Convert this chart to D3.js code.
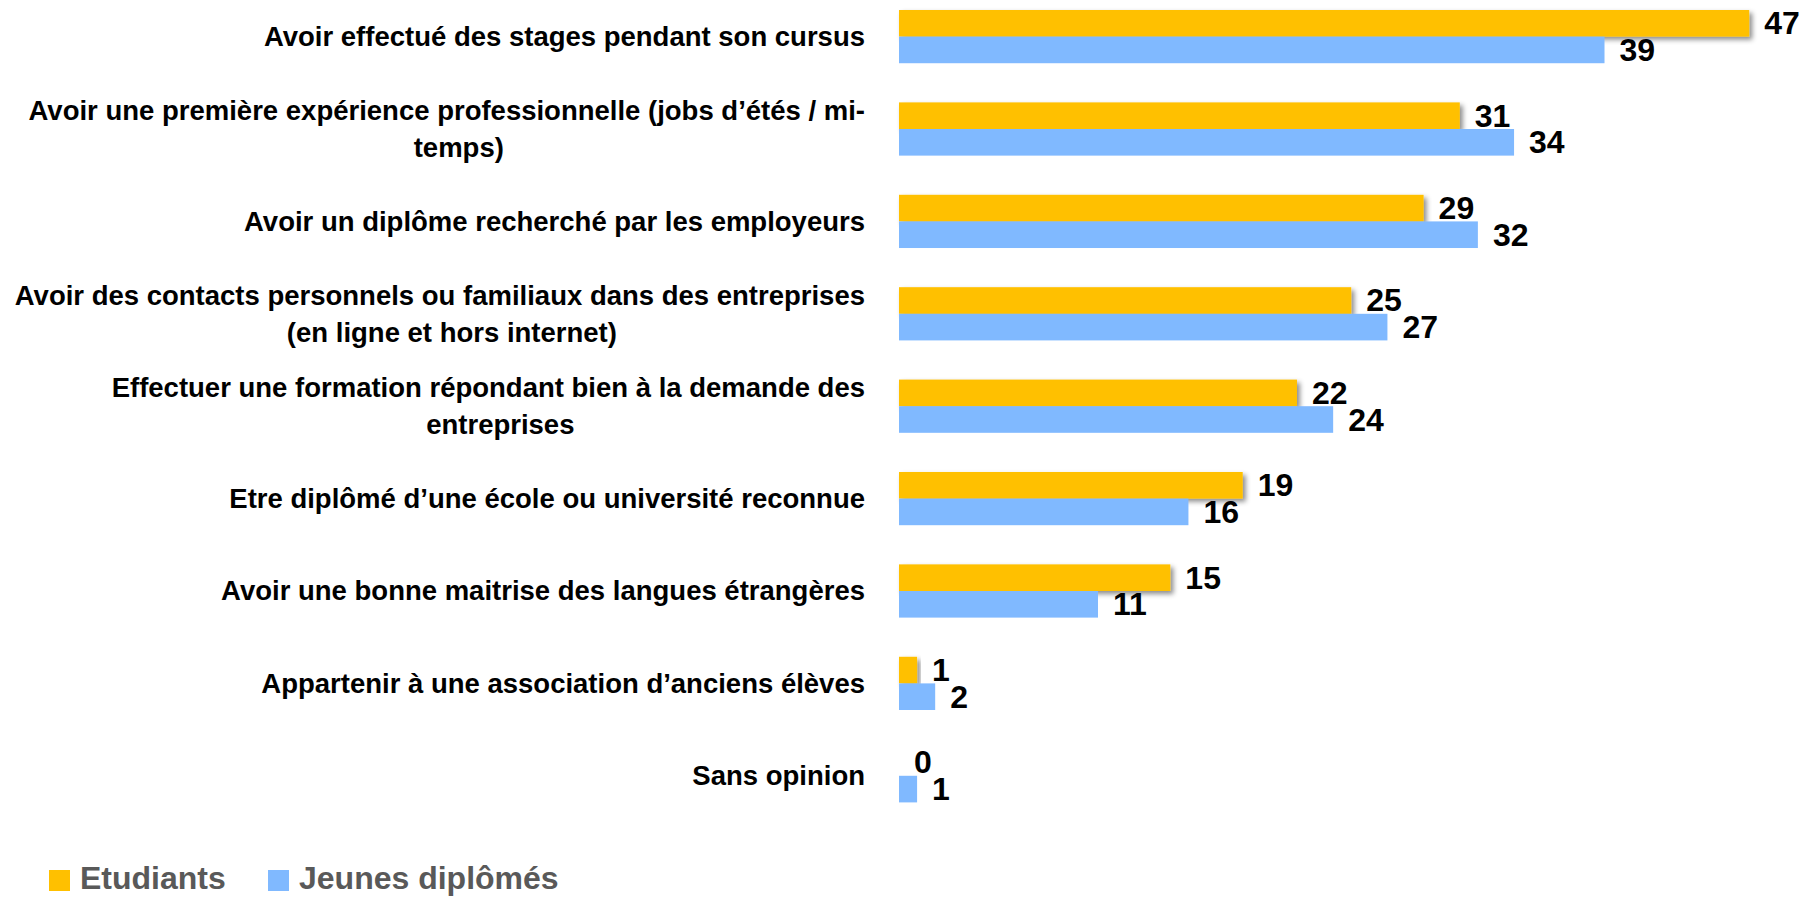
<!DOCTYPE html>
<html>
<head>
<meta charset="utf-8">
<script src="https://cdn.jsdelivr.net/npm/d3@7"></script>
<style>
    body { margin: 0; background: #fff; }
    svg { display: block; font-family: "Liberation Sans", Arial, sans-serif; font-weight: bold; }
</style>
</head>
<body>
<div id="chart"></div>
<script>
//#region data
let categories = [
    ['Avoir effectué des stages pendant son cursus'],
    ['Avoir une première expérience professionnelle (jobs d’étés / mi-', 'temps)'],
    ['Avoir un diplôme recherché par les employeurs'],
    ['Avoir des contacts personnels ou familiaux dans des entreprises', '(en ligne et hors internet)'],
    ['Effectuer une formation répondant bien à la demande des', 'entreprises'],
    ['Etre diplômé d’une école ou université reconnue'],
    ['Avoir une bonne maitrise des langues étrangères'],
    ['Appartenir à une association d’anciens élèves'],
    ['Sans opinion']
];
let seriesNames = ['Etudiants', 'Jeunes diplômés'];
let etudiants = [47, 31, 29, 25, 22, 19, 15, 1, 0];
let jeunesDiplomes = [39, 34, 32, 27, 24, 16, 11, 2, 1];
let colors = ['#FFC000', '#80B9FF'];
//#endregion

//#region variables
let width = 1816,
    height = 897,
    x0 = 899,
    labelRight = 865,
    labelSize = 27.5;
let series = [etudiants, jeunesDiplomes];
let keys = categories.map((c, i) => 'c' + i);
//#endregion

let svg = d3.select('#chart')
    .append('svg')
    .attr('width', width)
    .attr('height', height);

// shadow for the yellow bars
let filter = svg.append('defs').append('filter')
    .attr('id', 'shadow')
    .attr('x', '-10%').attr('y', '-30%')
    .attr('width', '130%').attr('height', '180%');
filter.append('feDropShadow')
    .attr('dx', 3).attr('dy', 3)
    .attr('stdDeviation', 2.5)
    .attr('flood-color', '#000')
    .attr('flood-opacity', 0.45);

//#region scales
let xScale = d3.scaleLinear()
    .domain([0, 50])
    .range([x0, x0 + 50 * 18.09]);

let yScale = d3.scaleBand()
    .domain(keys)
    .range([10, 802.4])
    .paddingInner(0.424)
    .paddingOuter(0);

let ySub = d3.scaleBand()
    .domain(seriesNames)
    .range([0, yScale.bandwidth()]);
//#endregion

//#region bars
seriesNames.forEach((name, s) => {
    let g = svg.append('g').attr('class', 'series');
    g.selectAll('rect')
        .data(series[s])
        .enter()
        .append('rect')
        .attr('x', xScale(0))
        .attr('y', (d, i) => yScale(keys[i]) + ySub(name))
        .attr('width', d => xScale(d) - xScale(0))
        .attr('height', ySub.bandwidth())
        .attr('fill', colors[s])
        .attr('filter', s === 0 ? 'url(#shadow)' : null);
});

// value labels
seriesNames.forEach((name, s) => {
    svg.append('g').selectAll('text')
        .data(series[s])
        .enter()
        .append('text')
        .attr('x', d => xScale(d) + 15)
        .attr('y', (d, i) => yScale(keys[i]) + ySub(name) + ySub.bandwidth() / 2 + 11)
        .attr('font-size', 32)
        .attr('fill', '#000')
        .text(d => d);
});
//#endregion

//#region category labels
let lineGap = 36.6;
categories.forEach((lines, i) => {
    let cy = yScale(keys[i]) + yScale.bandwidth() / 2;
    let first = cy - (lines.length - 1) * lineGap / 2 + 9.5;
    let t1 = svg.append('text')
        .attr('x', labelRight)
        .attr('y', first)
        .attr('text-anchor', 'end')
        .attr('font-size', labelSize)
        .attr('fill', '#000')
        .text(lines[0]);
    if (lines.length > 1) {
        let w = t1.node().getComputedTextLength();
        svg.append('text')
            .attr('x', labelRight - w / 2 + 12)
            .attr('y', first + lineGap)
            .attr('text-anchor', 'middle')
            .attr('font-size', labelSize)
            .attr('fill', '#000')
            .text(lines[1]);
    }
});
//#endregion

//#region legend
let legendX = [49, 268];
seriesNames.forEach((name, s) => {
    svg.append('rect')
        .attr('x', legendX[s])
        .attr('y', 870)
        .attr('width', 21)
        .attr('height', 21)
        .attr('fill', colors[s]);
    svg.append('text')
        .attr('x', legendX[s] + 31)
        .attr('y', 889)
        .attr('font-size', 32)
        .attr('fill', '#595959')
        .text(name);
});
//#endregion
</script>
</body>
</html>
